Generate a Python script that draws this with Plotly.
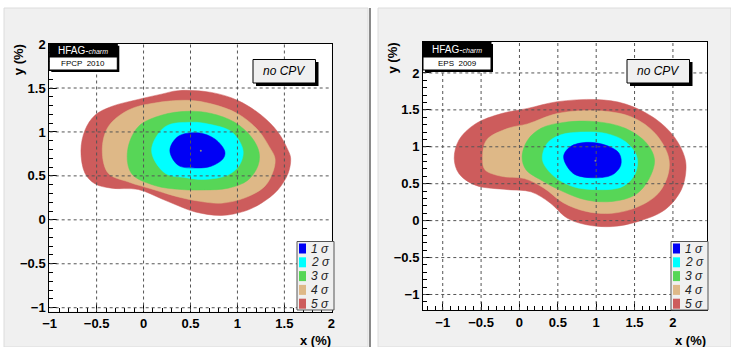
import plotly.graph_objects as go

# ---------------- data ----------------
SIGMA_LABELS = ["1 σ", "2 σ", "3 σ", "4 σ", "5 σ"]
SIGMA_COLORS = ["#0000f5", "#00ffff", "#57d657", "#deb887", "#cd5c5c"]
TICKS = [-1, -0.5, 0, 0.5, 1, 1.5, 2]

# FPCP 2010 contours (x %, y %)
FPCP_1S = [(0.28, 0.79), (0.37, 0.95), (0.58, 0.99), (0.76, 0.92), (0.865, 0.78), (0.85, 0.70),
           (0.72, 0.61), (0.55, 0.59), (0.37, 0.62)]
FPCP_2S = [(0.085, 0.79), (0.23, 1.06), (0.51, 1.11), (0.69, 1.09), (0.94, 1.0), (1.06, 0.79),
           (1.02, 0.62), (0.90, 0.51), (0.65, 0.46), (0.45, 0.48), (0.23, 0.53)]
FPCP_3S = [(-0.17, 0.79), (-0.056, 1.06), (0.19, 1.19), (0.475, 1.235), (0.72, 1.21), (0.97, 1.11),
           (1.15, 0.94), (1.23, 0.77), (1.22, 0.62), (1.11, 0.45), (0.90, 0.36), (0.65, 0.34),
           (0.40, 0.345), (0.12, 0.39), (-0.13, 0.53)]
FPCP_4S = [(-0.44, 0.79), (-0.376, 1.06), (-0.16, 1.25), (0.12, 1.33), (0.475, 1.36), (0.72, 1.32),
           (1.0, 1.21), (1.22, 1.02), (1.34, 0.83), (1.40, 0.70), (1.38, 0.55), (1.29, 0.38),
           (1.08, 0.25), (0.83, 0.19), (0.60, 0.21), (0.37, 0.26), (0.12, 0.34), (-0.16, 0.43),
           (-0.376, 0.53)]
FPCP_5S = [(-0.667, 0.79), (-0.624, 1.02), (-0.518, 1.19), (-0.34, 1.29), (-0.056, 1.37), (0.19, 1.43),
           (0.37, 1.47), (0.72, 1.45), (1.0, 1.36), (1.255, 1.19), (1.43, 1.0), (1.54, 0.79),
           (1.567, 0.70), (1.54, 0.53), (1.43, 0.34), (1.255, 0.19), (1.08, 0.10), (0.83, 0.05),
           (0.55, 0.09), (0.37, 0.16), (0.19, 0.24), (-0.056, 0.345), (-0.34, 0.36), (-0.518, 0.41),
           (-0.624, 0.53)]
FPCP_CENTER = (0.61, 0.785)

# EPS 2009 contours (x %, y %)
EPS_1S = [(0.575, 0.865), (0.66, 1.0), (0.87, 1.06), (1.13, 1.02), (1.30, 0.91), (1.32, 0.75),
          (1.21, 0.62), (0.96, 0.58), (0.70, 0.64)]
EPS_2S = [(0.30, 0.82), (0.36, 1.045), (0.53, 1.16), (0.83, 1.20), (1.13, 1.18), (1.38, 1.07),
          (1.53, 0.865), (1.51, 0.64), (1.34, 0.46), (1.0, 0.42), (0.70, 0.46), (0.45, 0.60)]
EPS_3S = [(0.034, 0.865), (0.106, 1.09), (0.28, 1.25), (0.575, 1.33), (1.0, 1.34), (1.38, 1.25),
          (1.66, 1.045), (1.76, 0.82), (1.68, 0.55), (1.51, 0.35), (1.21, 0.26), (0.87, 0.28),
          (0.575, 0.39), (0.28, 0.55), (0.085, 0.69)]
EPS_4S = [(-0.48, 0.84), (-0.43, 1.09), (-0.15, 1.25), (0.106, 1.31), (0.49, 1.45), (1.0, 1.49),
          (1.47, 1.40), (1.77, 1.18), (1.94, 0.87), (1.94, 0.64), (1.81, 0.37), (1.55, 0.19),
          (1.21, 0.10), (0.87, 0.125), (0.575, 0.24), (0.32, 0.44), (0.064, 0.57), (-0.234, 0.60),
          (-0.45, 0.69)]
EPS_5S = [(-0.85, 0.84), (-0.79, 1.09), (-0.575, 1.31), (-0.234, 1.45), (0.106, 1.52), (0.49, 1.61),
          (1.0, 1.64), (1.38, 1.58), (1.77, 1.38), (2.02, 1.13), (2.15, 0.87), (2.17, 0.69),
          (2.11, 0.42), (1.9, 0.15), (1.55, -0.01), (1.21, -0.08), (0.87, -0.055), (0.62, 0.035),
          (0.40, 0.24), (0.15, 0.39), (-0.15, 0.42), (-0.575, 0.48), (-0.79, 0.64)]
EPS_CENTER = (0.99, 0.81)

# ---------------- layout helpers ----------------
W, H = 731, 347
def px(x): return x / W
def py(y): return 1 - y / H

FONT = "Liberation Sans, Arial, sans-serif"
fig = go.Figure()

panels = [
    dict(xa="x", ya="y", contours=[FPCP_1S, FPCP_2S, FPCP_3S, FPCP_4S, FPCP_5S], center=FPCP_CENTER,
         dom=(49.3, 331.7, 43.7, 311.5), xr=[-1.0, 2.0], yr=[-1.043, 2.0], tag="FPCP  2010",
         pad=(4, 368), legend_x=297, cpv_x=253),
    dict(xa="x2", ya="y2", contours=[EPS_1S, EPS_2S, EPS_3S, EPS_4S, EPS_5S], center=EPS_CENTER,
         dom=(423, 707, 42, 310), xr=[-1.253, 2.44], yr=[-1.21, 2.415], tag="EPS  2009",
         pad=(378, 731), legend_x=671, cpv_x=627),
]

shapes = []
annotations = []

for i, p in enumerate(panels):
    # filled contours, largest first
    for k in range(4, -1, -1):
        pts = p["contours"][k] + [p["contours"][k][0]]
        fig.add_trace(go.Scatter(
            x=[a for a, b in pts], y=[b for a, b in pts], xaxis=p["xa"], yaxis=p["ya"],
            mode="lines", fill="toself", fillcolor=SIGMA_COLORS[k],
            line=dict(color=SIGMA_COLORS[k], width=0.5, shape="spline", smoothing=1.0),
            hoverinfo="skip", showlegend=False))
    fig.add_trace(go.Scatter(x=[p["center"][0]], y=[p["center"][1]], xaxis=p["xa"], yaxis=p["ya"],
                             mode="markers", marker=dict(size=2, color="#888"), showlegend=False))

    x0, x1, y0, y1 = p["dom"]
    axis_common = dict(showgrid=False, zeroline=False, showline=True, linecolor="black", linewidth=1,
                       mirror=True, ticks="inside", ticklen=8, tickcolor="black", automargin=False,
                       tickvals=TICKS, ticktext=[f"{t:g}".replace("-", "−") for t in TICKS],
                       tickfont=dict(family=FONT, size=13, color="black", weight="bold"),
                       minor=dict(dtick=0.1, ticks="inside", ticklen=4, tickcolor="black"))
    xkey = "xaxis" if i == 0 else "xaxis2"
    ykey = "yaxis" if i == 0 else "yaxis2"
    fig.update_layout({
        xkey: dict(domain=[px(x0), px(x1)], range=[p["xr"][0] - 0.004, p["xr"][1] + 0.004],
                   anchor=p["ya"], **axis_common),
        ykey: dict(domain=[py(y1), py(y0)], range=[p["yr"][0], p["yr"][1] + 0.004],
                   anchor=p["xa"], **axis_common),
    })

    # pad background and plot frame background
    shapes.append(dict(type="rect", xref="paper", yref="paper", layer="below",
                       x0=px(p["pad"][0]), x1=px(p["pad"][1]), y0=py(347), y1=py(8),
                       fillcolor="#f0f0f0", line=dict(color="#dcdcdc", width=1)))
    shapes.append(dict(type="rect", xref="paper", yref="paper", layer="below",
                       x0=px(x0), x1=px(x1), y0=py(y1), y1=py(y0),
                       fillcolor="white", line=dict(width=0)))
    # grid lines above contours
    xref = p["xa"]; yref = p["ya"]
    for t in TICKS:
        if p["xr"][0] < t < p["xr"][1]:
            shapes.append(dict(type="line", xref=xref, yref=yref, layer="above",
                               x0=t, x1=t, y0=p["yr"][0], y1=p["yr"][1],
                               line=dict(color="#555", width=1, dash="dot")))
        if p["yr"][0] < t < p["yr"][1]:
            shapes.append(dict(type="line", xref=xref, yref=yref, layer="above",
                               x0=p["xr"][0], x1=p["xr"][1], y0=t, y1=t,
                               line=dict(color="#555", width=1, dash="dot")))

    # HFAG box
    hx0, hx1 = x0, x0 + 68
    shapes.append(dict(type="rect", xref="paper", yref="paper", layer="above",
                       x0=px(hx0 + 2), x1=px(hx1 + 2), y0=py(72), y1=py(y0 + 2),
                       fillcolor="black", line=dict(width=0)))
    shapes.append(dict(type="rect", xref="paper", yref="paper", layer="above",
                       x0=px(hx0), x1=px(hx1), y0=py(57), y1=py(y0),
                       fillcolor="black", line=dict(color="black", width=1)))
    shapes.append(dict(type="rect", xref="paper", yref="paper", layer="above",
                       x0=px(hx0), x1=px(hx1), y0=py(70), y1=py(57),
                       fillcolor="white", line=dict(color="black", width=1)))
    annotations.append(dict(xref="paper", yref="paper", x=px((hx0 + hx1) / 2), y=py((y0 + 57) / 2),
                            text="HFAG-<i><span style='font-size:7px'>charm</span></i>", showarrow=False,
                            font=dict(family=FONT, size=10, color="white"), xanchor="center", yanchor="middle"))
    annotations.append(dict(xref="paper", yref="paper", x=px((hx0 + hx1) / 2), y=py(63.5),
                            text=p["tag"], showarrow=False,
                            font=dict(family=FONT, size=8, color="black"), xanchor="center", yanchor="middle"))

    # "no CPV" box
    cx0 = p["cpv_x"]; cx1 = cx0 + 62.5
    shapes.append(dict(type="rect", xref="paper", yref="paper", layer="above",
                       x0=px(cx0 + 3), x1=px(cx1 + 3), y0=py(86), y1=py(62),
                       fillcolor="black", line=dict(width=0)))
    shapes.append(dict(type="rect", xref="paper", yref="paper", layer="above",
                       x0=px(cx0), x1=px(cx1), y0=py(83), y1=py(59.5),
                       fillcolor="#f0f0f0", line=dict(color="black", width=1)))
    annotations.append(dict(xref="paper", yref="paper", x=px((cx0 + cx1) / 2), y=py(71.5),
                            text="<i>no CPV</i>", showarrow=False,
                            font=dict(family=FONT, size=12, color="black"), xanchor="center", yanchor="middle"))

    # legend box
    lx = p["legend_x"]
    shapes.append(dict(type="rect", xref="paper", yref="paper", layer="above",
                       x0=px(lx), x1=px(lx + 37), y0=py(310), y1=py(241.5),
                       fillcolor="#f0f0f0", line=dict(color="#555", width=1)))
    for k in range(5):
        cy = 248.5 + k * 13.8
        shapes.append(dict(type="rect", xref="paper", yref="paper", layer="above",
                           x0=px(lx + 2), x1=px(lx + 9), y0=py(cy + 5), y1=py(cy - 5),
                           fillcolor=SIGMA_COLORS[k], line=dict(width=0)))
        annotations.append(dict(xref="paper", yref="paper", x=px(lx + 12), y=py(cy),
                                text="<i>" + SIGMA_LABELS[k] + "</i>", showarrow=False,
                                font=dict(family=FONT, size=12, color="#222"),
                                xanchor="left", yanchor="middle"))

    # axis titles
    annotations.append(dict(xref="paper", yref="paper", x=px(x1 + 1), y=py(340),
                            text="<b>x (%)</b>", showarrow=False,
                            font=dict(family=FONT, size=13, color="black"), xanchor="right", yanchor="middle"))
    annotations.append(dict(xref="paper", yref="paper", x=px(p["pad"][0] + 14), y=py(y0 - 1),
                            text="<b>y (%)</b>", showarrow=False, textangle=-90,
                            font=dict(family=FONT, size=13, color="black"), xanchor="center", yanchor="top"))

# divider between the pads
shapes.append(dict(type="line", xref="paper", yref="paper", layer="below",
                   x0=px(370), x1=px(370), y0=py(347), y1=py(8), line=dict(color="#8a8a8a", width=2)))

fig.update_layout(width=W, height=H, margin=dict(l=0, r=0, t=0, b=0, autoexpand=False),
                  paper_bgcolor="white", plot_bgcolor="rgba(0,0,0,0)",
                  shapes=shapes, annotations=annotations, showlegend=False)

fig.write_html("out.html", config={"displayModeBar": False},
               post_script="document.body.style.margin='0';document.body.style.overflow='hidden';")
